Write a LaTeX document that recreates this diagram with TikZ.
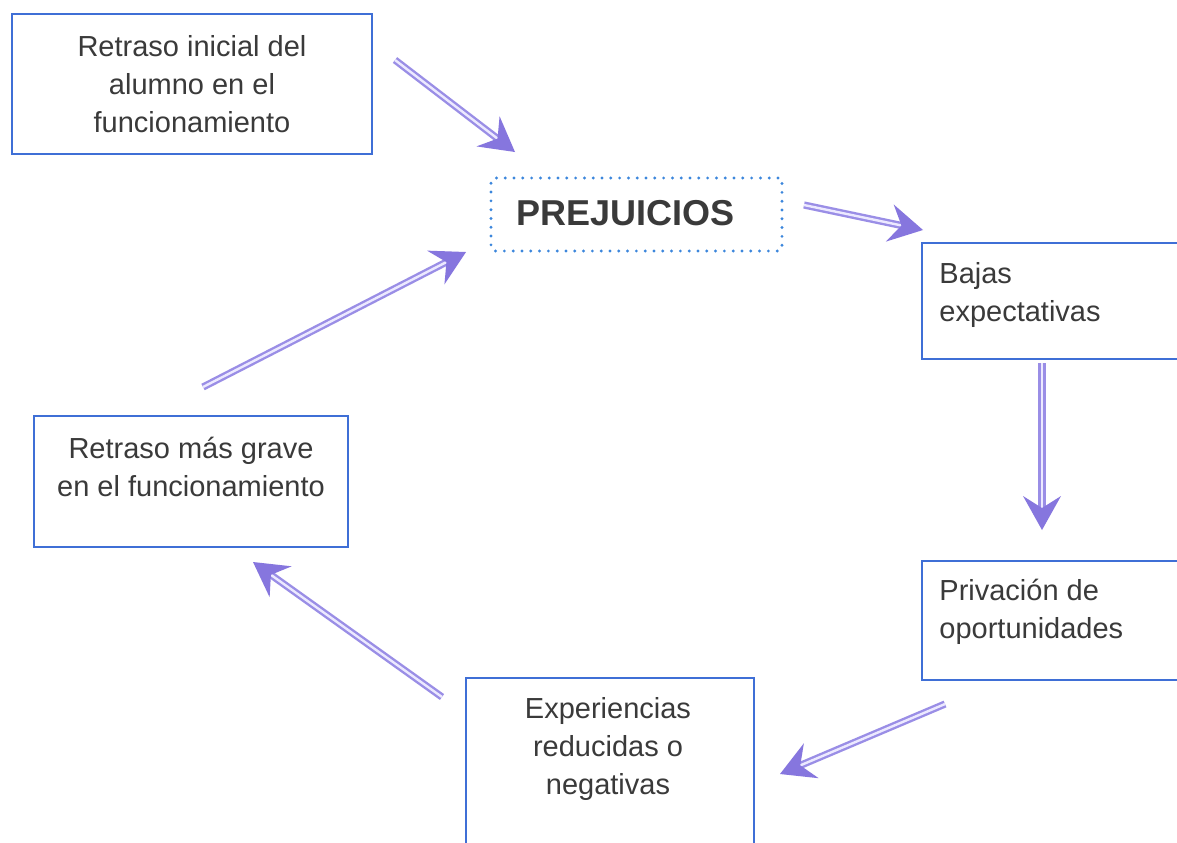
\documentclass[tikz,border=0pt]{standalone}
\usepackage{fontspec}
\setmainfont{Liberation Sans}
\usetikzlibrary{arrows.meta,positioning}

\definecolor{boxblue}{HTML}{3F6FD6}
\definecolor{dotblue}{HTML}{3C86DC}
\definecolor{arrowlav}{HTML}{9A8EE6}
\definecolor{arrowtip}{HTML}{8676DE}
\definecolor{arrowin}{HTML}{ECE9FF}
\definecolor{inkgray}{HTML}{3A3A3A}

\tikzset{
    box/.style={draw=boxblue, line width=1pt, rectangle, inner sep=0pt},
    keybox/.style={draw=dotblue, line width=1.6pt, line cap=round,
        dash pattern=on 0pt off 4.4pt, rounded corners=2pt, inner sep=0pt},
    lbl/.style={text=inkgray, font=\fontsize{14.5}{19}\selectfont, align=center, inner sep=0pt},
    flow/.style={draw=arrowlav, line width=1.2pt, double=arrowin, double distance=1.2pt,
        -{Stealth[length=17pt, width=19pt, inset=6pt, line width=0pt, fill=arrowtip]}},
}

\begin{document}
\begin{tikzpicture}[x=0.5pt, y=-0.5pt]
        \useasboundingbox (0,0) rectangle (1177,842);
        \fill[white] (0,0) rectangle (1177,842);
        \clip (0,0) rectangle (1177,842);
        % boxes
        \node[box, minimum width=180pt, minimum height=70pt] (ini) at (192, 84) {};
        \node[keybox, minimum width=145.5pt, minimum height=36.5pt] (prej) at (636.5, 214.5) {};
        \node[box, minimum width=136.5pt, minimum height=58pt] (bajas) at (1058.5, 301) {};
        \node[box, minimum width=136.5pt, minimum height=59.5pt] (priv) at (1058.5, 620.5) {};
        \node[box, minimum width=144pt, minimum height=91pt] (exper) at (610, 769) {};
        \node[box, minimum width=157pt, minimum height=65.5pt] (grave) at (191, 481.5) {};
        % texts
        \node[lbl] (ini-t) at (ini.center) {Retraso inicial del\\alumno en el\\funcionamiento};
        \node[lbl, font=\fontsize{18}{22}\selectfont\bfseries] (prej-t) at ([xshift=-5.5pt, yshift=0.75pt]prej.center) {PREJUICIOS};
        \node[lbl, align=left, anchor=west] (bajas-t) at ([xshift=9pt, yshift=3pt]bajas.west) {Bajas\\expectativas};
        \node[lbl, align=left, anchor=west] (priv-t) at ([xshift=9pt, yshift=4.25pt]priv.west) {Privación de\\oportunidades};
        \node[lbl] (exper-t) at ([xshift=-1pt, yshift=10pt]exper.center) {Experiencias\\reducidas o\\negativas};
        \node[lbl] (grave-t) at ([yshift=7.25pt]grave.center) {Retraso más grave\\en el funcionamiento};
        % arrow ends
        \coordinate (a1s) at (395, 60);   \coordinate (a1e) at (515, 152);
        \coordinate (a2s) at (804, 205);  \coordinate (a2e) at (923, 230);
        \coordinate (a3s) at (1042, 363); \coordinate (a3e) at (1042, 530);
        \coordinate (a4s) at (945, 704);  \coordinate (a4e) at (780, 774);
        \coordinate (a5s) at (442, 697);  \coordinate (a5e) at (253, 562);
        \coordinate (a6s) at (203, 387);  \coordinate (a6e) at (466, 252);
        % cycle
        \draw[flow] (a1s) -- (a1e);
        \draw[flow] (a2s) -- (a2e);
        \draw[flow] (a3s) -- (a3e);
        \draw[flow] (a4s) -- (a4e);
        \draw[flow] (a5s) -- (a5e);
        \draw[flow] (a6s) -- (a6e);
\end{tikzpicture}
\end{document}
